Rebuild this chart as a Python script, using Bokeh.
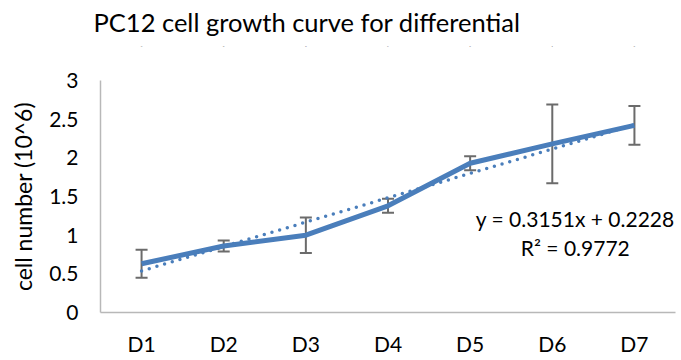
from bokeh.plotting import figure
from bokeh.models import (ColumnDataSource, FactorRange, Range1d, Whisker, TeeHead, Label,
                          FixedTicker, CategoricalAxis)
from bokeh.embed import file_html
from bokeh.resources import INLINE

days = ["D1", "D2", "D3", "D4", "D5", "D6", "D7"]
cells = [0.63, 0.86, 1.00, 1.38, 1.93, 2.18, 2.42]
errors = [0.18, 0.07, 0.23, 0.09, 0.09, 0.51, 0.25]
trend_slope = 0.3151
trend_intercept = 0.2228
r_squared = 0.9772
y_ticks = [0, 0.5, 1, 1.5, 2, 2.5, 3]
title_text = "PC12 cell growth curve for differential"

FONT = "Lato"
BLUE = "#4A7EBB"
GRAY_ERR = "#6b6b6b"
AXIS_GRAY = "#b8b8b8"

trend = [trend_slope * (i + 1) + trend_intercept for i in range(len(days))]
src = ColumnDataSource(dict(
    x=days, y=cells,
    upper=[c + e for c, e in zip(cells, errors)],
    lower=[c - e for c, e in zip(cells, errors)],
    trend=trend,
))

p = figure(width=680, height=358, x_range=FactorRange(*days), y_range=Range1d(0, 3),
           output_backend="svg", toolbar_location=None,
           min_border_left=100, min_border_right=5, min_border_top=80, min_border_bottom=44)

p.title.text = title_text
p.title.text_font = FONT
p.title.text_font_size = "25.5px"
p.title.text_font_style = "normal"
p.title.text_color = "#000000"
p.title.align = "left"
p.title.vertical_align = "top"
p.title.offset = -7
p.title.standoff = 10

p.outline_line_color = None
p.xgrid.grid_line_color = None
p.ygrid.grid_line_color = None

xaxis = p.below[0]
yaxis = p.left[0]
for ax in (xaxis, yaxis):
    ax.axis_line_color = AXIS_GRAY
    ax.axis_line_width = 1.5
    ax.major_tick_line_color = None
    ax.minor_tick_line_color = None
    ax.major_tick_out = 0
    ax.major_tick_in = 0
    ax.major_label_text_font = FONT
    ax.major_label_text_font_size = "21px"
    ax.major_label_text_color = "#000000"

xaxis.major_label_standoff = 18
yaxis.major_label_standoff = 22
yaxis.ticker = FixedTicker(ticks=y_ticks)
yaxis.major_label_overrides = {0: "0", 0.5: "0.5", 1: "1", 1.5: "1.5", 2: "2", 2.5: "2.5", 3: "3"}
yaxis.axis_label = "cell number (10^6)"
yaxis.axis_label_text_font = FONT
yaxis.axis_label_text_font_size = "23px"
yaxis.axis_label_text_font_style = "normal"
yaxis.axis_label_text_color = "#000000"
yaxis.axis_label_standoff = 9

# blank axis above the frame: only provides space between the title and the plot
spacer = CategoricalAxis(axis_line_color=None, major_tick_line_color=None,
                         minor_tick_line_color=None, major_tick_out=33, major_tick_in=0,
                         major_label_standoff=0, major_label_text_font_size="1px",
                         major_label_overrides={d: " " for d in days})
p.add_layout(spacer, "above")

w = Whisker(base="x", upper="upper", lower="lower", source=src,
            line_color=GRAY_ERR, line_width=2,
            upper_head=TeeHead(size=12, line_color=GRAY_ERR, line_width=2),
            lower_head=TeeHead(size=12, line_color=GRAY_ERR, line_width=2))
p.add_layout(w)

p.line("x", "y", source=src, line_color=BLUE, line_width=5, line_join="round")
p.line("x", "trend", source=src, line_color=BLUE, line_width=3.5, line_dash="0 8", line_cap="round")

p.add_layout(Label(x=5.78, y=1.215, text=f"y = {trend_slope}x + {trend_intercept}",
                   text_font=FONT, text_font_size="21px", text_align="center", text_baseline="middle",
                   text_color="#000000"))
p.add_layout(Label(x=5.78, y=0.846, text=f"R² = {r_squared}",
                   text_font=FONT, text_font_size="21px", text_align="center", text_baseline="middle",
                   text_color="#000000"))

open("out.html", "w").write(file_html(p, INLINE))
